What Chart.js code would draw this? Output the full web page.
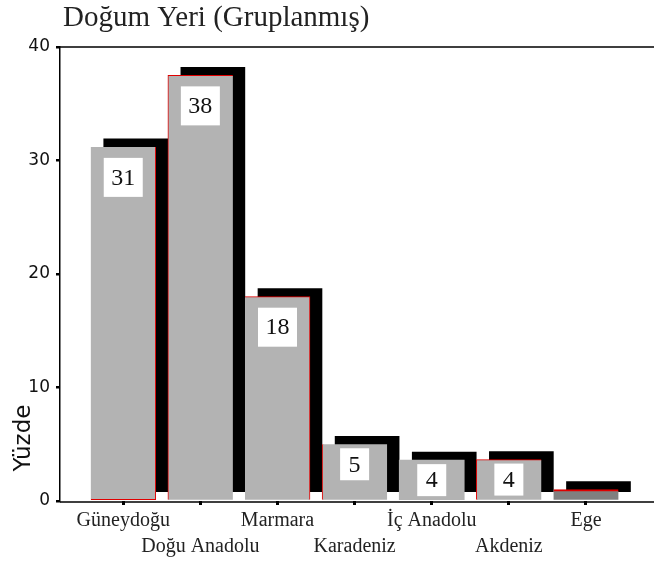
<!DOCTYPE html>
<html>
<head>
<meta charset="utf-8">
<script src="https://cdn.jsdelivr.net/npm/chart.js@4.4.1/dist/chart.umd.min.js"></script>
<style>
  html, body { margin: 0; padding: 0; background: #ffffff; }
  #wrap { width: 654px; height: 563px; position: relative; }
</style>
</head>
<body>
<div id="wrap"><canvas id="c" width="654" height="563"></canvas></div>
<script>
// ---- data ----
const categories = ['Güneydoğu', 'Doğu Anadolu', 'Marmara', 'Karadeniz', 'İç Anadolu', 'Akdeniz', 'Ege'];
const percentages = [31.2, 37.5, 18.0, 5.0, 3.6, 3.65, 1.0];
const valueLabels = ['31', '38', '18', '5', '4', '4', ''];
const yTickValues = [0, 10, 20, 30, 40];
const chartTitle = 'Doğum Yeri (Gruplanmış)';
const yTitle = 'Yüzde';

// ---- styles ----
const barColors = ['#b3b3b3', '#b3b3b3', '#b3b3b3', '#b3b3b3', '#b3b3b3', '#b3b3b3', '#808080'];
const edgeWidths = [
  {top: 0, left: 0, right: 1, bottom: 1},
  {top: 1, left: 1, right: 0, bottom: 0},
  {top: 1, left: 0, right: 1, bottom: 0},
  {top: 0, left: 1, right: 0, bottom: 0},
  {top: 0, left: 0, right: 0, bottom: 0},
  {top: 1, left: 1, right: 0, bottom: 0},
  {top: 2, left: 0, right: 0, bottom: 0}
];
const SHADOW_DX = 12.5, SHADOW_DY = -8;
const SERIF = '"Liberation Serif", "Times New Roman", serif';
const SANS = '"DejaVu Sans", Arial, sans-serif';

const points = percentages.map((v, i) => ({x: i, y: v}));

const shadowPlugin = {
  id: 'shadowShift',
  beforeDatasetDraw(chart, args) {
    if (args.index === 1) { chart.ctx.save(); chart.ctx.translate(SHADOW_DX, SHADOW_DY); }
  },
  afterDatasetDraw(chart, args) {
    if (args.index === 1) { chart.ctx.restore(); }
  }
};

const labelPlugin = {
  id: 'valueBoxes',
  afterDatasetsDraw(chart) {
    const ctx = chart.ctx;
    const meta = chart.getDatasetMeta(0);
    ctx.save();
    ctx.font = '24px ' + SERIF;
    ctx.textAlign = 'center';
    ctx.textBaseline = 'middle';
    meta.data.forEach((bar, i) => {
      const txt = valueLabels[i];
      if (!txt) return;
      const big = percentages[i] >= 10;
      const tw = ctx.measureText(txt).width;
      const w = tw + (big ? 15 : 17);
      const h = big ? 39 : 32;
      const cy = big ? bar.y + 11 + h / 2 : bar.y + 20;
      ctx.fillStyle = '#ffffff';
      ctx.fillRect(bar.x - w / 2, cy - h / 2, w, h);
      ctx.fillStyle = '#111111';
      ctx.fillText(txt, bar.x, cy + 1);
    });
    ctx.restore();
  }
};

const framePlugin = {
  id: 'frame',
  afterDraw(chart) {
    const ctx = chart.ctx;
    const a = chart.chartArea;
    ctx.save();
    ctx.strokeStyle = '#000000';
    ctx.lineWidth = 1.5;
    ctx.beginPath();
    ctx.moveTo(a.left, a.top);
    ctx.lineTo(chart.width, a.top);
    ctx.moveTo(a.left, a.bottom + 1);
    ctx.lineTo(chart.width, a.bottom + 1);
    ctx.stroke();
    // chart title
    ctx.fillStyle = '#222222';
    ctx.font = '29px ' + SERIF;
    ctx.textAlign = 'left';
    ctx.textBaseline = 'alphabetic';
    ctx.fillText(chartTitle, 63, 26);
    // y title
    ctx.font = '23px ' + SANS;
    ctx.fillStyle = '#111111';
    ctx.translate(24, 438);
    ctx.rotate(-Math.PI / 2);
    ctx.textAlign = 'center';
    ctx.textBaseline = 'middle';
    ctx.fillText(yTitle, 0, 0);
    ctx.restore();
  }
};

new Chart(document.getElementById('c'), {
  type: 'bar',
  data: {
    datasets: [
      {
        label: 'Yüzde',
        data: points,
        backgroundColor: barColors,
        borderColor: '#e00000',
        borderWidth: edgeWidths,
        borderSkipped: false,
        grouped: false,
        barThickness: 65
      },
      {
        label: 'gölge',
        data: points,
        backgroundColor: '#000000',
        borderWidth: 0,
        grouped: false,
        barThickness: 64,
        clip: false
      }
    ]
  },
  options: {
    responsive: false,
    animation: false,
    events: [],
    layout: { padding: { top: 47, right: 4, bottom: 0, left: 0 } },
    plugins: { legend: { display: false }, tooltip: { enabled: false }, title: { display: false } },
    scales: {
      x: {
        type: 'linear',
        min: -0.82,
        max: 6.83,
        offset: false,
        afterBuildTicks(scale) { scale.ticks = categories.map((c, i) => ({value: i})); },
        afterFit(scale) { scale.height = 62; },
        border: { display: false },
        grid: { display: true, offset: false, drawOnChartArea: false, drawTicks: true, tickLength: 4, color: '#000000', lineWidth: 3 },
        ticks: {
          autoSkip: false,
          maxRotation: 0,
          padding: 3,
          color: '#222222',
          font: { family: SERIF, size: 20, lineHeight: 1.3 },
          callback(value) {
            const i = Math.round(value);
            return i % 2 === 0 ? [categories[i]] : ['', categories[i]];
          }
        }
      },
      y: {
        type: 'linear',
        min: 0,
        max: 40,
        afterBuildTicks(scale) { scale.ticks = yTickValues.map(v => ({value: v})); },
        afterFit(scale) { scale.width = 60; },
        border: { display: true, color: '#000000', width: 1.5 },
        grid: { display: true, drawOnChartArea: false, drawTicks: true, tickLength: 4, color: '#000000', lineWidth: 2.5 },
        ticks: {
          padding: 6,
          color: '#111111',
          font: { family: SANS, size: 17 }
        }
      }
    }
  },
  plugins: [shadowPlugin, labelPlugin, framePlugin]
});
</script>
</body>
</html>
